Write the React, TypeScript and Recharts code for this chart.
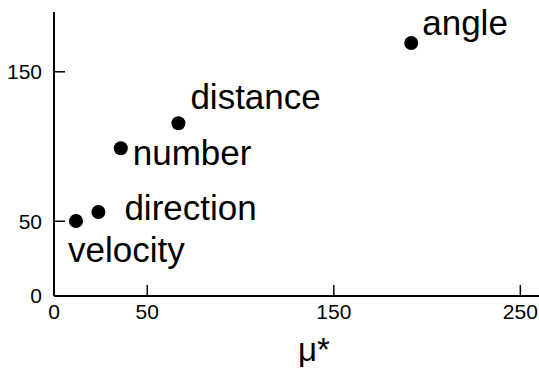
import { ScatterChart, Scatter, XAxis, YAxis, LabelList } from 'recharts';

// valores
const concepts = ['velocity', 'direction', 'number', 'distance', 'angle'];
const muStar = [11.8, 23.8, 35.8, 66.7, 191.5];
const yValues = [50.2, 56.2, 98.8, 115.6, 169.3];
const xTicks = [0, 50, 150, 250];
const yTicks = [0, 50, 150];

// dónde va cada etiqueta respecto a su punto
const labelOffset: Record<string, { dx: number; dy: number }> = {
  velocity: { dx: -8, dy: 41 },
  direction: { dx: 26, dy: 8 },
  number: { dx: 12, dy: 17 },
  distance: { dx: 12, dy: -14 },
  angle: { dx: 11, dy: -8 },
};

const data = concepts.map((name, i) => ({ name, x: muStar[i], y: yValues[i] }));

const FONT = '"Liberation Sans", Arial, sans-serif';

const XTick = ({ x, y, payload }: any) => (
  <g>
    <line x1={x} y1={y} x2={x} y2={y - 11} stroke="#000" strokeWidth={1.5} />
    <text x={x} y={y + 23} textAnchor="middle" fontSize={21} fontFamily={FONT} fill="#000">
      {payload.value}
    </text>
  </g>
);

const YTick = ({ x, y, payload }: any) => (
  <g>
    <line x1={x} y1={y} x2={x + 11} y2={y} stroke="#000" strokeWidth={1.5} />
    <text x={x - 12} y={y} dy="0.35em" textAnchor="end" fontSize={21} fontFamily={FONT} fill="#000">
      {payload.value}
    </text>
  </g>
);

const Dot = ({ cx, cy }: any) => <circle cx={cx} cy={cy} r={7} fill="#000" />;

const PointLabel = ({ x, y, width, height, value }: any) => {
  const cx = x + width / 2;
  const cy = y + height / 2;
  const off = labelOffset[value] || { dx: 10, dy: 0 };
  return (
    <text x={cx + off.dx} y={cy + off.dy} fontSize={35} fontFamily={FONT} fill="#000">
      {value}
    </text>
  );
};

export default function App() {
  return (
    <div style={{ position: 'absolute', left: 0, top: 0, width: 539, height: 368, background: '#fff' }}>
      <ScatterChart width={539} height={368} margin={{ top: 12, right: 0, bottom: 0, left: 0 }}>
        <XAxis
          type="number"
          dataKey="x"
          domain={[0, 260]}
          ticks={xTicks}
          allowDataOverflow
          axisLine={{ stroke: '#000', strokeWidth: 2 }}
          tickLine={false}
          tickSize={0}
          tickMargin={0}
          tick={<XTick />}
          height={72}
          label={({ viewBox }: any) => (
            <text x={viewBox.x + 244} y={viewBox.y + 65} fontSize={33} fontFamily={FONT} fill="#000">
              μ*
            </text>
          )}
        />
        <YAxis
          type="number"
          dataKey="y"
          domain={[0, 190]}
          ticks={yTicks}
          allowDataOverflow
          axisLine={{ stroke: '#000', strokeWidth: 2 }}
          tickLine={false}
          tickSize={0}
          tickMargin={0}
          tick={<YTick />}
          width={54}
        />
        <Scatter data={data} shape={<Dot />} isAnimationActive={false}>
          <LabelList dataKey="name" content={<PointLabel />} />
        </Scatter>
      </ScatterChart>
    </div>
  );
}
